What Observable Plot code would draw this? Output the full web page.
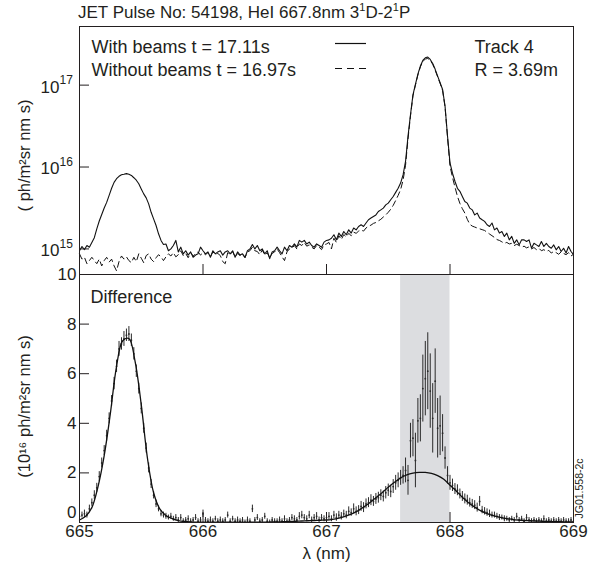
<!DOCTYPE html>
<html>
<head>
<meta charset="utf-8">
<script src="https://cdn.jsdelivr.net/npm/d3@7"></script>
<script src="https://cdn.jsdelivr.net/npm/@observablehq/plot@0.6"></script>
<style>
  body { margin: 0; background: #fff; }
  #wrap { position: relative; width: 603px; height: 574px; font-family: "Liberation Sans", Arial, Helvetica, sans-serif; color: #231f20; overflow: hidden; }
  #title { position: absolute; left: 78px; top: 3px; font-size: 17px; line-height: 20px; white-space: nowrap; }
  #title sup { font-size: 11px; line-height: 0; vertical-align: 0; position: relative; top: -7px; }
  .panel { position: absolute; left: 0; }
  #legendSamples { position: absolute; left: 0; top: 0; }
</style>
</head>
<body>
<div id="wrap">
  <div id="title">JET Pulse No: 54198, HeI 667.8nm 3<sup>1</sup>D-2<sup>1</sup>P</div>
  <div id="topPanel" class="panel" style="top:16px"></div>
  <div id="bottomPanel" class="panel" style="top:264px"></div>
  <svg id="legendSamples" width="603" height="100">
    <line x1="335" x2="366" y1="43.5" y2="43.5" stroke="#111" stroke-width="1.2"></line>
    <line x1="335" x2="366" y1="68.5" y2="68.5" stroke="#111" stroke-width="1.2" stroke-dasharray="7,5"></line>
  </svg>
</div>
<script>
// wavelength grid of the spectrometer (nm)
const lambdaStart = 665;
const lambdaStep = 0.02;

// Top panel: spectra in units of 10^15 ph/m^2 sr nm s
const withBeams = [
  0.95, 1.07, 0.98, 1.1, 1.05, 1.2, 1.37, 1.76, 2.19, 2.63,
  3.16, 3.7, 4.5, 5.5, 6.5, 7.2, 7.7, 8.05, 8.15, 8.3,
  8.15, 7.9, 7.4, 6.9, 6.25, 5.4, 4.7, 4.2, 3.55, 2.8,
  2.33, 1.93, 1.53, 1.27, 1.13, 1.15, 0.95, 1.0, 1.1, 1.27,
  0.92, 1.05, 0.87, 0.95, 0.84, 0.92, 0.79, 0.84, 0.87, 1.05,
  0.95, 0.87, 0.92, 0.79, 0.95, 0.87, 0.92, 0.95, 0.84, 0.92,
  0.95, 0.87, 0.95, 0.79, 0.92, 0.84, 0.87, 0.79, 0.95, 1.0,
  1.13, 1.0, 1.1, 0.95, 1.0, 0.87, 0.95, 0.76, 0.92, 0.95,
  1.05, 0.95, 0.87, 1.05, 0.95, 1.1, 1.05, 1.15, 1.05, 1.27,
  1.21, 1.27, 1.15, 1.21, 1.1, 1.05, 1.15, 1.1, 1.05, 1.21,
  1.27, 1.29, 1.35, 1.49, 1.29, 1.56, 1.42, 1.63, 1.49, 1.71,
  1.56, 1.8, 1.71, 1.88, 1.97, 1.88, 2.07, 2.27, 2.38, 2.49,
  2.6, 2.86, 3.0, 3.15, 3.45, 3.62, 3.98, 4.37, 4.9, 5.5,
  6.37, 8.0, 11.7, 23.8, 43.5, 76, 102, 136, 171, 200,
  216, 220, 206, 184, 156, 129, 107, 88.5, 55, 23.8,
  11.2, 8.4, 6.7, 5.5, 5.05, 4.37, 3.8, 3.62, 3.15, 3.0,
  2.6, 2.74, 2.38, 2.27, 2.17, 1.97, 1.88, 2.07, 1.71, 1.8,
  1.56, 1.63, 1.42, 1.56, 1.29, 1.42, 1.17, 1.29, 1.12, 1.29,
  1.29, 1.23, 1.29, 1.02, 1.17, 1.12, 1.07, 1.23, 1.07, 1.17,
  1.07, 1.02, 1.12, 0.975, 1.07, 0.93, 1.02, 0.89, 1.07, 0.93,
  0.85
];
const withoutBeams = [
  0.87, 0.75, 0.79, 0.66, 0.72, 0.79, 0.72, 0.66, 0.75, 0.62,
  0.72, 0.79, 0.69, 0.75, 0.62, 0.54, 0.7, 0.82, 0.75, 0.8,
  0.72, 0.68, 0.79, 0.7, 0.87, 0.77, 0.68, 0.83, 0.87, 0.75,
  0.7, 0.78, 0.85, 0.8, 0.72, 0.8, 0.87, 0.82, 0.9, 0.8,
  0.85, 0.95, 0.83, 0.88, 0.78, 0.9, 0.82, 0.87, 0.92, 0.84,
  0.9, 0.85, 0.9, 0.8, 0.92, 0.86, 0.88, 0.83, 0.7, 0.66,
  0.9, 0.85, 0.93, 0.8, 0.88, 0.83, 0.86, 0.78, 0.92, 0.95,
  1.05, 0.95, 0.93, 0.85, 0.97, 0.84, 0.9, 0.78, 0.88, 0.92,
  1.0, 0.9, 0.8, 0.72, 0.92, 1.0, 1.02, 1.1, 1.0, 1.15,
  1.1, 1.2, 1.08, 1.12, 1.05, 1.0, 1.1, 1.05, 0.98, 1.12,
  1.15, 1.2, 1.0, 1.35, 1.2, 1.45, 1.3, 1.5, 1.4, 1.55,
  1.45, 1.6, 1.55, 1.65, 1.7, 1.65, 1.8, 1.9, 1.95, 2.05,
  2.1, 2.2, 2.3, 2.45, 2.6, 2.8, 3.05, 3.4, 3.9, 4.5,
  5.3, 6.9, 10.5, 22, 42, 74, 100, 133, 167, 195,
  208, 212, 200, 180, 152, 126, 105, 86, 54, 23,
  10.3, 7.5, 5.7, 4.4, 3.6, 3.1, 2.74, 2.3, 2.0, 1.9,
  1.85, 1.8, 1.76, 1.72, 1.68, 1.6, 1.52, 1.45, 1.38, 1.3,
  1.27, 1.22, 1.17, 1.2, 1.15, 1.17, 1.1, 1.14, 1.1, 1.05,
  1.08, 1.03, 1.06, 1.0, 1.04, 0.98, 1.02, 0.95, 0.98, 0.93,
  0.96, 0.89, 0.93, 0.9, 0.86, 0.92, 0.88, 0.85, 0.9, 0.82,
  0.86
];

// Bottom panel: difference in units of 10^16 ph/m^2 sr nm s, with error bars
const diffValue = [
  0.25, 0.3, 0.35, 0.3, 0.55, 0.8, 1.1, 1.4, 1.85, 2.4,
  2.9, 3.5, 4.2, 4.9, 5.6, 6.3, 7.0, 7.2, 7.4, 7.55,
  7.6, 7.35, 6.8, 6.1, 5.4, 4.6, 3.8, 3.0, 2.2, 1.55,
  1.1, 0.75, 0.55, 0.35, 0.3, 0.25, 0.2, 0.25, 0.15, 0.2,
  0.1, 0.2, 0.05, 0.1, 0.15, 0.05, 0.1, 0.2, 0.05, 0.1,
  0.35, 0.1, 0.05, 0.1, 0.05, 0.15, 0.05, 0.1, 0.05, 0.1,
  0.3, 0.05, 0.15, 0.05, 0.1, 0.05, 0.1, 0.0, 0.1, 0.05,
  0.55, 0.1, 0.2, 0.05, 0.1, 0.25, 0.05, 0.0, 0.1, 0.05,
  0.05, 0.1, 0.05, 0.15, 0.05, 0.1, 0.2, 0.15, 0.1, 0.25,
  0.3, 0.2, 0.15, 0.3, 0.1, 0.2, 0.25, 0.1, 0.2, 0.15,
  0.2, 0.25, 0.15, 0.3, 0.2, 0.3, 0.25, 0.35, 0.3, 0.45,
  0.4, 0.55, 0.45, 0.5, 0.65, 0.6, 0.75, 0.8, 0.9, 0.85,
  0.95, 1.0, 1.1, 1.05, 1.2, 1.3, 1.25, 1.45, 1.6, 1.7,
  1.8, 1.9, 2.1, 1.7, 3.3, 3.4, 2.5, 4.1, 4.2, 5.4,
  5.8, 6.1, 5.3, 4.2, 5.7, 3.8, 3.9, 3.6, 2.6, 1.9,
  1.6, 1.5, 1.35, 1.3, 1.15, 1.05, 0.95, 0.9, 0.8, 0.75,
  0.7, 0.6, 0.85, 0.5, 0.45, 0.4, 0.35, 0.3, 0.3, 0.25,
  0.2, 0.2, 0.15, 0.15, 0.1, 0.15, 0.1, 0.25, 0.1, 0.15,
  0.05, 0.2, 0.1, 0.05, 0.1, 0.05, 0.1, 0.05, 0.15, 0.05,
  0.1, 0.05, 0.1, 0.05, 0.1, 0.05, 0.1, 0.05, 0.05, 0.1,
  0.05
];
const diffError = [
  0.12, 0.12, 0.15, 0.12, 0.15, 0.15, 0.18, 0.18, 0.2, 0.2,
  0.2, 0.22, 0.22, 0.22, 0.25, 0.25, 0.3, 0.25, 0.3, 0.25,
  0.3, 0.25, 0.25, 0.25, 0.22, 0.22, 0.2, 0.2, 0.2, 0.18,
  0.15, 0.15, 0.12, 0.12, 0.12, 0.12, 0.1, 0.12, 0.1, 0.12,
  0.1, 0.12, 0.1, 0.1, 0.12, 0.1, 0.1, 0.12, 0.1, 0.1,
  0.15, 0.1, 0.1, 0.12, 0.1, 0.1, 0.1, 0.12, 0.1, 0.1,
  0.12, 0.1, 0.1, 0.1, 0.12, 0.1, 0.1, 0.1, 0.12, 0.1,
  0.15, 0.1, 0.12, 0.1, 0.1, 0.12, 0.1, 0.1, 0.1, 0.1,
  0.1, 0.12, 0.1, 0.12, 0.1, 0.1, 0.12, 0.12, 0.1, 0.15,
  0.15, 0.12, 0.12, 0.15, 0.12, 0.12, 0.15, 0.12, 0.12, 0.12,
  0.15, 0.15, 0.12, 0.15, 0.15, 0.15, 0.15, 0.15, 0.15, 0.18,
  0.15, 0.2, 0.18, 0.18, 0.2, 0.2, 0.2, 0.2, 0.22, 0.2,
  0.22, 0.22, 0.22, 0.22, 0.25, 0.25, 0.25, 0.28, 0.3, 0.3,
  0.3, 0.35, 0.5, 0.6, 0.7, 0.75, 1.1, 0.9, 0.95, 1.35,
  1.5, 1.55, 1.5, 1.4, 1.3, 1.2, 1.2, 0.75, 0.45, 0.35,
  0.3, 0.25, 0.22, 0.22, 0.2, 0.2, 0.2, 0.2, 0.18, 0.18,
  0.18, 0.18, 0.2, 0.15, 0.15, 0.15, 0.15, 0.12, 0.12, 0.12,
  0.12, 0.1, 0.12, 0.1, 0.1, 0.1, 0.1, 0.12, 0.1, 0.1,
  0.1, 0.12, 0.1, 0.1, 0.1, 0.1, 0.1, 0.1, 0.12, 0.1,
  0.1, 0.1, 0.1, 0.1, 0.1, 0.1, 0.1, 0.1, 0.1, 0.1,
  0.1
];

// Fitted profile (10^16 units) on a 0.05 nm grid
const fitStart = 665;
const fitStep = 0.05;
const fitValue = [
  0.1, 0.25, 0.6, 1.45, 2.7, 4.4, 6.3, 7.33, 7.42, 6.5,
  4.75, 2.6, 1.2, 0.55, 0.28, 0.16, 0.08, 0.04, 0.02, 0.01,
  0.01, 0.01, 0.01, 0.01, 0.01, 0.01, 0.01, 0.01, 0.01, 0.012,
  0.015, 0.02, 0.025, 0.03, 0.04, 0.05, 0.06, 0.07, 0.08, 0.09,
  0.1, 0.13, 0.18, 0.25, 0.34, 0.46, 0.62, 0.8, 1.0, 1.2,
  1.42, 1.62, 1.8, 1.92, 1.99, 2.02, 2.02, 1.98, 1.89, 1.74,
  1.5, 1.27, 1.02, 0.8, 0.62, 0.47, 0.36, 0.28, 0.22, 0.17,
  0.13, 0.1, 0.08, 0.07, 0.06, 0.05, 0.04, 0.035, 0.03, 0.025,
  0.02
];

// Shaded wavelength window
const shadedWindow = [{from: 667.6, to: 668.0}];

// Axis ticks and texts
const xTicks = [665, 666, 667, 668, 669];
const xInnerTicks = [666, 667, 668];
const topYTicks = [1, 10, 100];          // ×10^15
const topYTickExponents = ["15", "16", "17"];
const bottomYTicks = [2, 4, 6, 8, 10];
const bottomYZeroTick = [0];
const bottomYInnerTicks = [2, 4, 6, 8];
const legendLeft = ["With beams t = 17.11s", "Without beams t = 16.97s"];
const legendRight = ["Track 4", "R = 3.69m"];

const spectrum = withBeams.map((v, i) => ({
  lambda: +(lambdaStart + i * lambdaStep).toFixed(2),
  withBeams: v,
  withoutBeams: withoutBeams[i],
  diff: diffValue[i],
  err: diffError[i]
}));
const fit = fitValue.map((v, i) => ({lambda: +(fitStart + i * fitStep).toFixed(2), value: v}));

const font = '"Liberation Sans", Arial, Helvetica, sans-serif';
const ink = "#231f20";
const baseStyle = {fontFamily: font, fontSize: "17px", color: ink, background: "transparent", overflow: "visible"};

const rowDy = [26, 49];
const topPlot = Plot.plot({
  width: 603, height: 262,
  marginLeft: 79, marginRight: 30, marginTop: 10, marginBottom: 4,
  style: baseStyle,
  x: {domain: [665, 669]},
  y: {type: "log", domain: [0.487, 520]},
  marks: [
    Plot.line(spectrum, {x: "lambda", y: "withoutBeams", stroke: "#111", strokeWidth: 1, strokeDasharray: "6,4"}),
    Plot.line(spectrum, {x: "lambda", y: "withBeams", stroke: "#111", strokeWidth: 1.1}),
    Plot.axisY(topYTicks, {anchor: "left", tickSize: -10, tickFormat: () => "", label: null}),
    Plot.axisX(xInnerTicks, {anchor: "bottom", tickSize: -10, tickFormat: () => "", label: null}),
    Plot.text(topYTicks, {y: d => d, text: () => "10", frameAnchor: "left", textAnchor: "end", dx: -20, dy: 2, fontSize: 17}),
    Plot.text(topYTicks, {y: d => d, text: (d, i) => topYTickExponents[i], frameAnchor: "left", textAnchor: "start", dx: -20, dy: -5, fontSize: 12}),
    Plot.text(["( ph/m²sr nm s)"], {frameAnchor: "left", textAnchor: "middle", rotate: -90, dx: -55, dy: 5, fontSize: 16.5}),
    Plot.text([legendLeft[0]], {frameAnchor: "top-left", textAnchor: "start", lineAnchor: "bottom", dx: 12, dy: rowDy[0], fontSize: 18}),
    Plot.text([legendLeft[1]], {frameAnchor: "top-left", textAnchor: "start", lineAnchor: "bottom", dx: 12, dy: rowDy[1], fontSize: 18}),
    Plot.text([legendRight[0]], {frameAnchor: "top-left", textAnchor: "start", lineAnchor: "bottom", dx: 395, dy: rowDy[0], fontSize: 18}),
    Plot.text([legendRight[1]], {frameAnchor: "top-left", textAnchor: "start", lineAnchor: "bottom", dx: 395, dy: rowDy[1], fontSize: 18}),
    Plot.frame({stroke: ink})
  ]
});
document.getElementById("topPanel").appendChild(topPlot);

const bottomPlot = Plot.plot({
  width: 603, height: 311,
  marginLeft: 79, marginRight: 30, marginTop: 10, marginBottom: 53,
  style: baseStyle,
  x: {domain: [665, 669]},
  y: {domain: [0, 10]},
  marks: [
    Plot.rect(shadedWindow, {x1: "from", x2: "to", fill: "#dcdde0"}),
    Plot.ruleX(spectrum, {x: "lambda", y1: d => d.diff - d.err, y2: d => d.diff + d.err, stroke: "#2a2a2a", strokeWidth: 1, clip: true}),
    Plot.dot(spectrum, {x: "lambda", y: "diff", r: 0.9, fill: "#2a2a2a", stroke: null, clip: true}),
    Plot.line(fit, {x: "lambda", y: "value", curve: "catmull-rom", stroke: "#111", strokeWidth: 1.3}),
    Plot.axisY(bottomYInnerTicks, {anchor: "left", tickSize: -10, tickFormat: () => "", label: null}),
    Plot.axisX(xInnerTicks, {anchor: "bottom", tickSize: -10, tickFormat: () => "", label: null}),
    Plot.text(bottomYTicks, {y: d => d, text: d => String(d), frameAnchor: "left", textAnchor: "end", dx: -3, fontSize: 17}),
    Plot.text(bottomYZeroTick, {y: d => d, text: d => String(d), frameAnchor: "left", textAnchor: "end", dx: -3, dy: -10, fontSize: 17}),
    Plot.text(xTicks, {x: d => d, text: d => String(d), frameAnchor: "bottom", lineAnchor: "top", dy: 2, fontSize: 17}),
    Plot.text(["λ (nm)"], {frameAnchor: "bottom", dy: 36, fontSize: 17}),
    Plot.text(["(10¹⁶ ph/m²sr nm s)"], {frameAnchor: "left", textAnchor: "middle", rotate: -90, dx: -55, dy: 8, fontSize: 16.5}),
    Plot.text(["Difference"], {frameAnchor: "top-left", textAnchor: "start", dx: 11, dy: 16, fontSize: 18}),
    Plot.text(["JG01.558-2c"], {frameAnchor: "bottom-right", rotate: -90, textAnchor: "start", dx: 9, dy: -4, fontSize: 10.5}),
    Plot.frame({stroke: ink})
  ]
});
document.getElementById("bottomPanel").appendChild(bottomPlot);
</script>
</body>
</html>
